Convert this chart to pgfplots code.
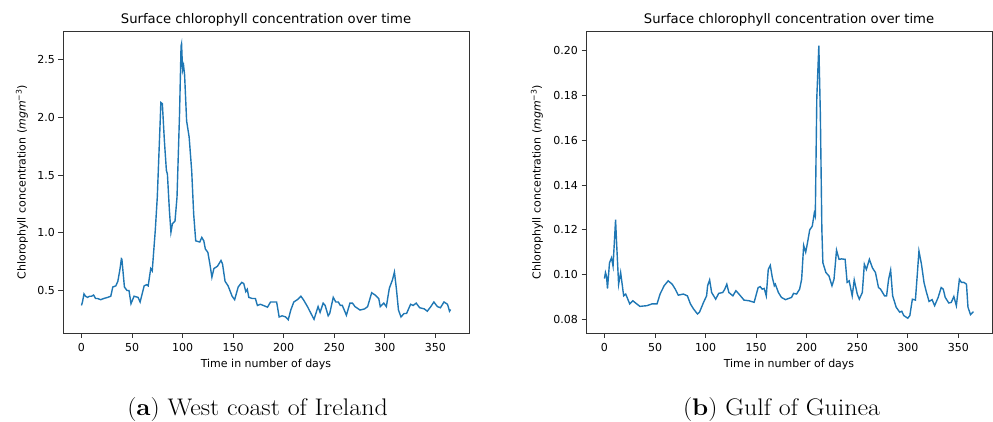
\documentclass[border=0pt]{standalone}
\usepackage{fontspec}
\usepackage{pgfplots}
\pgfplotsset{compat=1.18}
\newfontfamily\djv{DejaVu Sans}
\definecolor{mplblue}{RGB}{31,119,180}
\pgfplotsset{
  panel/.style={
    scale only axis, width=406pt, height=302pt,
    axis line style={black!80, line width=0.9pt},
    tick align=outside, tick pos=left,
    major tick length=4.5pt,
    every tick/.style={black!80, line width=0.9pt},
    /pgf/number format/assume math mode=true,
    ticklabel style={font=\djv\fontsize{11}{13}\selectfont},
    xticklabel style={yshift=-2.5pt},
    title style={font=\djv\fontsize{13.2}{15}\selectfont, inner sep=0pt, yshift=-1pt},
    xlabel style={font=\djv\fontsize{11}{13}\selectfont, inner sep=0pt},
    ylabel style={font=\djv\fontsize{11}{13}\selectfont, inner sep=0pt},
    xlabel shift=4pt,
    ylabel shift=6pt,
    xmin=-18.25, xmax=383.25,
    xtick={0,50,...,350},
    xlabel={Time in number of days},
    title={Surface chlorophyll concentration over time},
    ylabel={Chlorophyll concentration ({\itshape mgm}\textsuperscript{−3})},
  }
}
\begin{document}
\begin{tikzpicture}[x=1pt,y=1pt]
\begin{scope}[shift={(63,88)}]
\begin{axis}[panel, name=L,
  ymin=0.131, ymax=2.75,
  ytick={0.5,1.0,1.5,2.0,2.5},
  yticklabels={0.5,1.0,1.5,2.0,2.5},
]
\addplot[mplblue, line width=1.4pt, no markers] coordinates {
(0,0.37)(1,0.40)(2.5,0.47)(4,0.45)(6,0.44)(8,0.45)(10,0.45)(12,0.46)(14,0.43)(16,0.43)
(19,0.42)(22,0.43)(26,0.44)(29,0.45)(31,0.53)(34,0.54)(36,0.58)(38,0.68)(39.5,0.775)(40,0.77)
(42.5,0.53)(45,0.50)(47,0.50)(49,0.385)(52,0.45)(56,0.44)(58,0.40)(60,0.47)(62,0.54)(64.5,0.55)
(66,0.54)(68.5,0.69)(70,0.67)(73,1.02)(75,1.31)(78,2.00)(78.5,2.13)(80,2.12)(82,1.80)(84,1.54)
(85,1.51)(87,1.19)(88.5,1.005)(90,1.08)(92.5,1.10)(94.5,1.31)(97,2.03)(98.5,2.62)(99,2.64)(100,2.41)
(101,2.45)(102,2.37)(104,1.97)(106.5,1.83)(109,1.54)(111,1.16)(113,0.93)(117,0.92)(119,0.96)(121,0.93)
(122.5,0.86)(125,0.83)(127,0.73)(129,0.615)(131,0.69)(134.5,0.71)(138,0.76)(139.5,0.73)(142,0.58)(145,0.54)
(149,0.45)(151.5,0.42)(155,0.53)(158.5,0.57)(160.5,0.56)(162.5,0.49)(164,0.51)(165.5,0.44)(169,0.43)(172,0.43)
(174,0.37)(177,0.38)(184,0.355)(187,0.40)(190.5,0.40)(193,0.40)(195.5,0.27)(198.5,0.28)(202,0.27)(204.5,0.246)
(207,0.33)(210,0.40)(213.5,0.42)(217,0.45)(219.5,0.42)(223.5,0.36)(227,0.30)(230,0.25)(234,0.36)(236,0.31)
(239,0.39)(241,0.37)(244,0.28)(245.5,0.30)(249,0.44)(251.5,0.40)(254,0.40)(256,0.37)(258,0.37)(262,0.285)
(265.5,0.39)(268,0.39)(270.5,0.36)(275.5,0.33)(280,0.34)(283,0.36)(287,0.48)(290.5,0.46)(294,0.43)(295.5,0.36)
(299,0.39)(301.5,0.36)(304.5,0.52)(307.5,0.59)(309.5,0.66)(311.5,0.51)(313.5,0.33)(316,0.27)(319,0.30)(321.5,0.30)
(325.5,0.38)(328,0.37)(331,0.39)(334.5,0.35)(339,0.34)(342,0.32)(345.5,0.36)(348.5,0.40)(352,0.36)(355,0.35)
(358.5,0.40)(362,0.38)(364,0.32)(365,0.335)
};
\end{axis}
\end{scope}
\begin{scope}[shift={(586,88)}]
\begin{axis}[panel, name=R,
  ymin=0.0739, ymax=0.2088,
  ytick={0.08,0.10,0.12,0.14,0.16,0.18,0.20},
  yticklabels={0.08,0.10,0.12,0.14,0.16,0.18,0.20},
  ylabel shift=7pt,
]
\addplot[mplblue, line width=1.4pt, no markers] coordinates {
(0,0.0982)(1,0.1009)(2,0.0994)(3,0.0938)(5,0.1053)(7,0.1075)(8.5,0.1038)(11,0.1245)(12,0.1142)(14,0.0957)
(16,0.1009)(19,0.0905)(21,0.0913)(25,0.0869)(28,0.0883)(35,0.0858)(42,0.0861)(47,0.0869)(52,0.0869)(55,0.0913)
(59,0.0950)(63,0.0972)(67,0.0957)(70,0.0935)(73,0.0908)(78,0.0913)(82,0.0905)(85,0.0869)(88,0.0847)(92,0.0824)
(94,0.0832)(98,0.0876)(101,0.0905)(102,0.0950)(104,0.0976)(106,0.0920)(110,0.0890)(113,0.0916)(117,0.0920)(119,0.0935)
(121,0.0957)(123,0.0920)(127,0.0905)(130,0.0928)(133,0.0913)(138,0.0886)(143,0.0883)(148,0.0876)(152,0.0942)(154,0.0946)
(156,0.0935)(158,0.0938)(160,0.0905)(162,0.1023)(164,0.1041)(166,0.0987)(168,0.0950)(169,0.0957)(172,0.0920)(175,0.0898)
(179,0.0888)(185,0.0898)(187,0.0916)(190,0.0913)(193,0.0935)(195,0.0979)(197,0.1130)(199,0.1100)(200.5,0.1135)(203,0.1200)
(205.5,0.1216)(207.5,0.1274)(208.5,0.1260)(210,0.1790)(212,0.2023)(213.5,0.1717)(215,0.1200)(216,0.1053)(219,0.1009)(222,0.0994)
(225,0.0950)(227,0.0979)(229.5,0.1109)(232,0.1068)(234.5,0.1070)(238,0.1068)(240,0.0965)(242,0.0972)(245,0.0905)(247,0.0976)
(250,0.0913)(252,0.0890)(255,0.0920)(257,0.1046)(259,0.1023)(262,0.1068)(265,0.1030)(268,0.1009)(271,0.0942)(273,0.0935)
(277,0.0905)(279,0.0905)(281,0.0979)(283,0.1020)(285,0.0905)(288.5,0.0854)(292,0.0832)(294,0.0836)(296,0.0817)(300,0.0805)
(302,0.0817)(304.5,0.0890)(307.5,0.0886)(309.5,0.1009)(311,0.1105)(313.5,0.1046)(316,0.0965)(318,0.0928)(321,0.0880)(324,0.0888)
(326.5,0.0861)(330,0.0898)(333,0.0942)(335,0.0935)(337,0.0898)(340.5,0.0873)(343,0.0876)(345.5,0.0902)(348,0.0861)(351,0.0979)
(353,0.0965)(355.5,0.0965)(358,0.0957)(359.5,0.0854)(362,0.0821)(364.5,0.0832)(365,0.0832)
};
\end{axis}
\end{scope}
\node[font=\fontsize{24}{28}\selectfont, inner sep=0pt, anchor=base, xscale=1.08] at (257.5,6) {(\textbf{a}) West coast of Ireland};
\node[font=\fontsize{24}{28}\selectfont, inner sep=0pt, anchor=base, xscale=1.08] at (781.5,6) {(\textbf{b}) Gulf of Guinea};
\path (0,0) rectangle (993,421);
\end{tikzpicture}
\end{document}
